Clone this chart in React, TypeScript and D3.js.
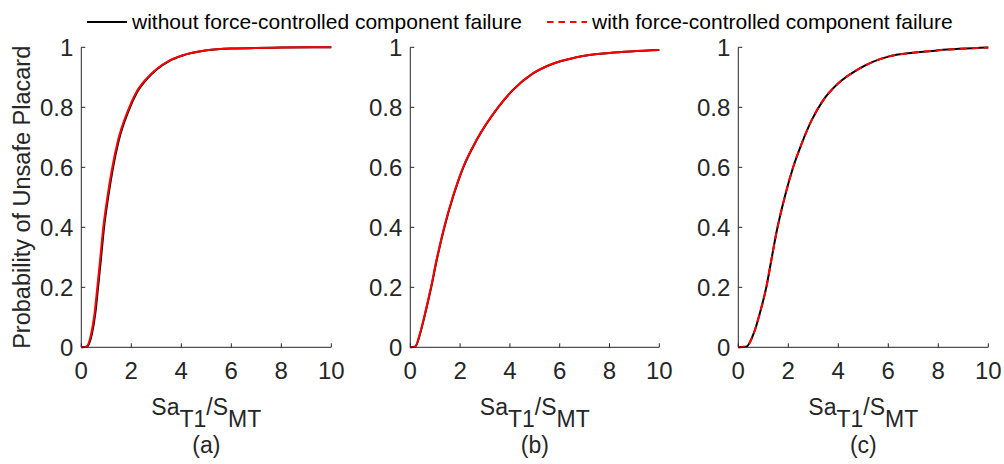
import React from "react";
import * as d3 from "d3";

// ---------- data ----------
const panelLabels = ["(a)", "(b)", "(c)"];
const xTicks = [0, 2, 4, 6, 8, 10];
const yTicks = [0, 0.2, 0.4, 0.6, 0.8, 1];
const yTickLabels = ["0", "0.2", "0.4", "0.6", "0.8", "1"];
const legendLabels = [
  "without force-controlled component failure",
  "with force-controlled component failure",
];

// panel (a)
const aWithX = [0, 0.2, 0.4, 0.53, 0.64, 0.75, 0.88, 1.04, 1.23, 1.47, 1.87, 2.2, 2.6, 3.0, 3.5, 4.0, 5, 6, 8, 10];
const aWithP = [0, 0.002, 0.047, 0.113, 0.2, 0.29, 0.4, 0.498, 0.595, 0.69, 0.79, 0.85, 0.895, 0.927, 0.955, 0.972, 0.99, 0.996, 0.999, 1.0];
const aWithoutX = [0, 0.22, 0.43, 0.56, 0.67, 0.78, 0.91, 1.07, 1.26, 1.5, 1.9, 2.23, 2.63, 3.03, 3.53, 4.03, 5.03, 6, 8, 10];
const aWithoutP = [0, 0.002, 0.047, 0.113, 0.2, 0.29, 0.4, 0.498, 0.595, 0.69, 0.79, 0.85, 0.895, 0.927, 0.955, 0.972, 0.99, 0.996, 0.999, 1.0];

// panel (b)
const bWithX = [0, 0.19, 0.39, 0.59, 0.83, 1.05, 1.36, 1.72, 2.12, 2.65, 3.52, 4.12, 4.92, 5.59, 6.67, 8, 10];
const bWithP = [0, 0.002, 0.047, 0.113, 0.2, 0.29, 0.4, 0.505, 0.6, 0.69, 0.8, 0.858, 0.913, 0.941, 0.967, 0.981, 0.991];
const bWithoutX = [0, 0.2, 0.4, 0.6, 0.84, 1.06, 1.37, 1.73, 2.13, 2.66, 3.53, 4.13, 4.93, 5.6, 6.68, 8, 10];
const bWithoutP = [0, 0.002, 0.047, 0.113, 0.2, 0.29, 0.4, 0.505, 0.6, 0.69, 0.8, 0.858, 0.913, 0.941, 0.967, 0.981, 0.991];

// panel (c)
const cWithX = [0, 0.32, 0.62, 0.86, 1.12, 1.32, 1.52, 1.87, 2.2, 2.54, 2.94, 3.4, 4.0, 4.74, 5.4, 6.0, 7.0, 8.0, 10];
const cWithP = [0, 0.002, 0.047, 0.113, 0.2, 0.29, 0.38, 0.505, 0.602, 0.68, 0.758, 0.824, 0.88, 0.924, 0.952, 0.969, 0.982, 0.99, 0.999];
const cWithoutX = [0, 0.32, 0.62, 0.86, 1.12, 1.32, 1.52, 1.87, 2.2, 2.54, 2.94, 3.4, 4.0, 4.74, 5.4, 6.0, 7.0, 8.0, 10];
const cWithoutP = [0, 0.002, 0.047, 0.113, 0.2, 0.29, 0.38, 0.505, 0.602, 0.68, 0.758, 0.824, 0.88, 0.924, 0.952, 0.969, 0.982, 0.99, 0.999];

const series = [
  { withX: aWithX, withP: aWithP, withoutX: aWithoutX, withoutP: aWithoutP, dashed: false },
  { withX: bWithX, withP: bWithP, withoutX: bWithoutX, withoutP: bWithoutP, dashed: false },
  { withX: cWithX, withP: cWithP, withoutX: cWithoutX, withoutP: cWithoutP, dashed: true },
];

// ---------- layout ----------
const W = 1004;
const H = 464;
const panelX = [
  [81.3, 331.3],
  [410.3, 659.3],
  [738.3, 988.3],
];
const yRange = [347.3, 47.3];
const FONT = "'Liberation Sans', Arial, Helvetica, sans-serif";
const AXIS = "#262626";

function Panel({ idx }: { idx: number }) {
  const [x0, x1] = panelX[idx];
  const x = d3.scaleLinear().domain([0, 10]).range([x0, x1]);
  const y = d3.scaleLinear().domain([0, 1]).range(yRange);
  const s = series[idx];
  const line = d3
    .line<[number, number]>()
    .x((d) => x(d[0]))
    .y((d) => y(d[1]))
    .curve(d3.curveMonotoneX);
  const without = line(s.withoutX.map((v, i) => [v, s.withoutP[i]] as [number, number])) || "";
  const withF = line(s.withX.map((v, i) => [v, s.withP[i]] as [number, number])) || "";
  const cx = (x0 + x1) / 2;
  return (
    <g>
      <path d={without} fill="none" stroke="#000" strokeWidth={2} />
      <path
        d={withF}
        fill="none"
        stroke="#ff0000"
        strokeWidth={2}
        strokeDasharray={s.dashed ? "7,5" : undefined}
      />
      {/* axes */}
      <line x1={x(0)} x2={x(10)} y1={y(0)} y2={y(0)} stroke={AXIS} strokeWidth={1} />
      <line x1={x(0)} x2={x(0)} y1={y(0)} y2={y(1)} stroke={AXIS} strokeWidth={1} />
      {xTicks.map((t) => (
        <g key={"x" + t}>
          <line x1={x(t)} x2={x(t)} y1={y(0)} y2={y(0) - 4} stroke={AXIS} strokeWidth={1} />
          <text x={x(t)} y={379} textAnchor="middle" fontSize={24} fill={AXIS} fontFamily={FONT}>
            {t}
          </text>
        </g>
      ))}
      {yTicks.map((t, i) => (
        <g key={"y" + t}>
          <line x1={x(0)} x2={x(0) + 4} y1={y(t)} y2={y(t)} stroke={AXIS} strokeWidth={1} />
          <text
            x={x(0) - 8}
            y={y(t) + 8.5}
            textAnchor="end"
            fontSize={24}
            fill={AXIS}
            fontFamily={FONT}
          >
            {yTickLabels[i]}
          </text>
        </g>
      ))}
      <text x={cx} y={415} textAnchor="middle" fontSize={23} fill={AXIS} fontFamily={FONT}>
        Sa
        <tspan dy={12}>T1</tspan>
        <tspan dy={-12}>/S</tspan>
        <tspan dy={12}>MT</tspan>
      </text>
      <text x={cx} y={453} textAnchor="middle" fontSize={23} fill={AXIS} fontFamily={FONT}>
        {panelLabels[idx]}
      </text>
    </g>
  );
}

export default function App() {
  return (
    <svg
      width={W}
      height={H}
      style={{ position: "absolute", left: 0, top: 0, background: "#fff" }}
    >
      <rect x={0} y={0} width={W} height={H} fill="#fff" />
      {[0, 1, 2].map((i) => (
        <Panel key={i} idx={i} />
      ))}
      <text
        transform={`translate(30,${(yRange[0] + yRange[1]) / 2}) rotate(-90)`}
        textAnchor="middle"
        fontSize={23.5}
        fill={AXIS}
        fontFamily={FONT}
      >
        Probability of Unsafe Placard
      </text>
      {/* legend */}
      <line x1={87} x2={127} y1={22} y2={22} stroke="#000" strokeWidth={2} />
      <text x={132} y={29} fontSize={21} fill="#000" fontFamily={FONT}>
        {legendLabels[0]}
      </text>
      <line x1={547} x2={587} y1={22} y2={22} stroke="#ff0000" strokeWidth={2} strokeDasharray="6.5,5" />
      <text x={592} y={29} fontSize={21} fill="#000" fontFamily={FONT}>
        {legendLabels[1]}
      </text>
    </svg>
  );
}
